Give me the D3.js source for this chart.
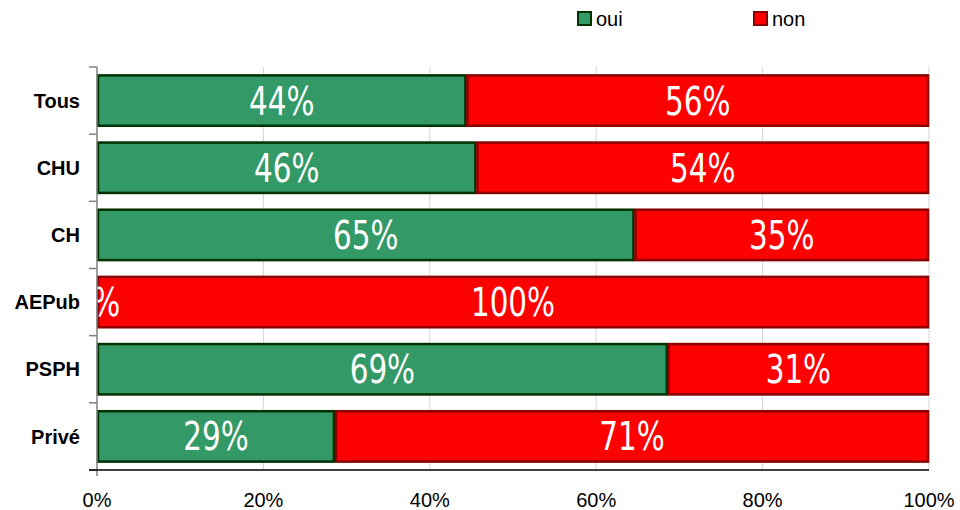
<!DOCTYPE html>
<html><head><meta charset="utf-8">
<script src="https://cdn.jsdelivr.net/npm/d3@7"></script>
<style>body{margin:0;background:#fff}svg{display:block}</style>
</head><body><svg id="c" width="960" height="510"></svg>
<script>
const categories = ["Tous","CHU","CH","AEPub","PSPH","Privé"];
const oui = [44.4, 45.6, 64.6, 0, 68.6, 28.6];
const non = [55.6, 54.4, 35.4, 100, 31.4, 71.4];
const seriesNames = ["oui","non"];
const xTicks = [0,20,40,60,80,100];

const colors = {oui:"#339966", non:"#FF0000"};
const strokes = {oui:"#003300", non:"#8B0000"};

const svg = d3.select("#c");
const m = {l:97, r:929, t:67, b:470};
const x = d3.scaleLinear().domain([0,100]).range([m.l, m.r]);
const y = d3.scaleBand().domain(categories).range([m.t, m.b]).paddingInner(0.22).paddingOuter(0.11);
const yb = d3.scaleBand().domain(categories).range([m.t, m.b]);

svg.append("defs").append("clipPath").attr("id","plot").append("rect")
  .attr("x", m.l).attr("y", m.t).attr("width", m.r-m.l).attr("height", m.b-m.t);

// gridlines
svg.append("g").selectAll("line").data(xTicks.slice(1)).join("line")
  .attr("x1", d=>x(d)).attr("x2", d=>x(d)).attr("y1", m.t).attr("y2", m.b)
  .attr("stroke","#d4d4d4").attr("stroke-width",1);

const data = categories.map((c,i)=>({cat:c, segs:[
  {key:"oui", x0:0, x1:oui[i], v:oui[i]},
  {key:"non", x0:oui[i], x1:oui[i]+non[i], v:non[i]}
]}));

const g = svg.append("g");
data.forEach(d=>{
  d.segs.forEach(s=>{
    if (s.v <= 0) return;
    g.append("rect")
      .attr("x", x(s.x0)+1).attr("y", y(d.cat)+1)
      .attr("width", x(s.x1)-x(s.x0)-2).attr("height", y.bandwidth()-2)
      .attr("fill", colors[s.key]).attr("stroke", strokes[s.key]).attr("stroke-width", 2.5);
  });
});
const lg = svg.append("g").attr("clip-path","url(#plot)");
data.forEach(d=>{
  d.segs.forEach(s=>{
    const cx = (x(s.x0)+x(s.x1))/2, cy = y(d.cat)+y.bandwidth()/2;
    lg.append("g").attr("transform",`translate(${cx},${cy}) scale(0.84,1)`)
      .append("text")
      .attr("x", 0).attr("y", 0)
      .attr("dy","0.36em").attr("text-anchor","middle")
      .attr("font-family","'DejaVu Sans Condensed','Liberation Sans Narrow',sans-serif")
      .attr("font-size",39).attr("fill","#fff")
      .text(Math.round(s.v)+"%");
  });
});

// y axis
const ax = svg.append("g");
ax.append("line").attr("x1",m.l).attr("x2",m.l).attr("y1",m.t).attr("y2",m.b+6).attr("stroke","#808080").attr("stroke-width",1.5);
const yTickPos = categories.map(c=>yb(c)).concat([m.b]);
ax.selectAll("line.t").data(yTickPos).join("line").attr("class","t")
  .attr("x1",m.l-8).attr("x2",m.l).attr("y1",d=>d).attr("y2",d=>d).attr("stroke","#808080").attr("stroke-width",1.5);
ax.selectAll("text").data(categories).join("text")
  .attr("x",80).attr("y",d=>yb(d)+yb.bandwidth()/2).attr("dy","0.36em")
  .attr("text-anchor","end").attr("font-family","Arial, 'Liberation Sans', sans-serif")
  .attr("font-weight","bold").attr("font-size",20).attr("fill","#000").text(d=>d);

// x axis
svg.append("line").attr("x1",m.l-8).attr("x2",m.r).attr("y1",m.b).attr("y2",m.b).attr("stroke","#000").attr("stroke-width",1.5);
svg.append("g").selectAll("text").data(xTicks).join("text")
  .attr("x",d=>x(d)).attr("y",507).attr("text-anchor","middle")
  .attr("font-family","Arial, 'Liberation Sans', sans-serif").attr("font-size",20).attr("fill","#000")
  .text(d=>d+"%");

// legend
const legX = [577, 753];
const leg = svg.append("g");
seriesNames.forEach((s,i)=>{
  leg.append("rect").attr("x",legX[i]+1).attr("y",12).attr("width",13).attr("height",13)
    .attr("fill",colors[s]).attr("stroke",strokes[s]).attr("stroke-width",2);
  leg.append("text").attr("x",legX[i]+19).attr("y",26)
    .attr("font-family","Arial, 'Liberation Sans', sans-serif").attr("font-size",20).attr("fill","#000").text(s);
});
</script></body></html>
